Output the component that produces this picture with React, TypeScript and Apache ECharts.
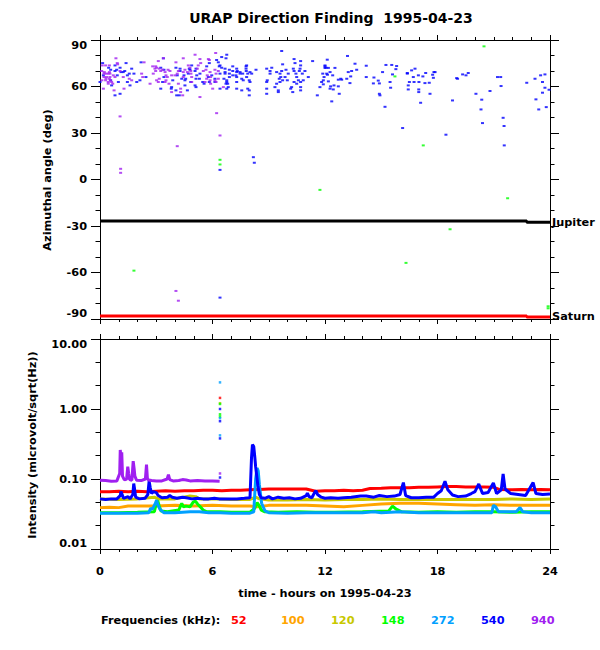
import React, { useEffect, useRef } from "react";
import * as echarts from "echarts";

const FONT = '"DejaVu Sans", sans-serif';
const TXT = 11.3;

const titleText = "URAP Direction Finding  1995-04-23";
const xAxisTitle = "time - hours on 1995-04-23";
const topYTitle = "Azimuthal angle (deg)";
const bottomYTitle = "Intensity (microvolt/sqrt(Hz))";
const legendTitle = "Frequencies (kHz):";
const frequencies = ["52", "100", "120", "148", "272", "540", "940"];
const freqColors = ["#ff0000", "#ffa500", "#c8c800", "#00ff00", "#00a0ff", "#0000ff", "#a020f0"];

// ---- Direction finding (top panel): [hour, azimuth deg]
const df940: number[][] = [
  [6.17, 81.6], [5.07, 80.5], [0.85, 78.2], [3.38, 78.2], [4.44, 78.2], [5.33, 77.7], [5.78, 77.7], [5.83, 77.1],
  [3.11, 76.4], [2.35, 75.6], [4.05, 75.6], [0.92, 75.1], [5.37, 75.1], [0.94, 74.3], [0.12, 73.6], [0.3, 73.6],
  [0.5, 73.6], [4.71, 73.6], [5.24, 73.6], [2.81, 73.0], [2.97, 73.0], [3.02, 72.1], [4.8, 72.1], [2.93, 71.5],
  [3.16, 71.5], [5.19, 71.5], [3.34, 70.8], [3.63, 70.8], [4.53, 70.8], [5.65, 70.8], [6.13, 70.8], [0.09, 70.0],
  [1.07, 70.0], [2.97, 70.0], [3.24, 70.0], [3.73, 70.0], [4.18, 70.0], [4.84, 70.0], [5.51, 70.0], [6.31, 70.0],
  [0.23, 69.3], [0.5, 69.3], [3.47, 69.3], [4.44, 69.3], [4.66, 69.3], [5.87, 69.3], [0.21, 68.3], [0.32, 68.3],
  [0.44, 68.3], [0.53, 68.3], [2.22, 68.3], [2.84, 68.3], [4.12, 68.3], [4.85, 68.3], [6.19, 68.3], [0.71, 67.2],
  [3.52, 67.2], [3.82, 67.2], [4.0, 67.2], [5.72, 67.2], [0.21, 66.1], [0.35, 66.1], [0.53, 66.1], [0.8, 66.1],
  [1.24, 66.1], [2.28, 66.1], [3.59, 66.1], [4.44, 66.1], [4.89, 66.1], [5.9, 66.1], [0.32, 65.0], [0.5, 65.0],
  [1.56, 65.0], [3.16, 65.0], [5.69, 65.0], [6.31, 65.0], [0.1, 64.0], [0.3, 64.0], [0.55, 64.0], [1.69, 64.0],
  [3.02, 64.0], [3.52, 64.0], [5.87, 64.0], [6.13, 64.0], [0.44, 62.9], [0.62, 62.9], [3.11, 62.9], [3.47, 62.9],
  [4.89, 62.9], [5.6, 62.9], [6.19, 62.9], [0.44, 61.8], [0.68, 61.8], [2.67, 61.8], [3.68, 61.8], [4.18, 61.8],
  [5.9, 61.8], [6.58, 59.6], [0.18, 58.6], [4.3, 58.6], [6.01, 58.6], [1.28, 58.6], [0.75, 57.5], [3.82, 56.4],
  [4.3, 56.4], [4.41, 54.3], [5.33, 53.2], [6.22, 42.8], [1.07, 40.7], [6.4, 28.4], [4.12, 21.5], [1.1, 6.9],
  [1.1, 4.3], [4.05, -71.9], [4.18, -78.2],
];

const df540: number[][] = [
  [9.69, 82.9], [6.76, 80.5], [6.49, 79.0], [3.38, 78.2], [6.72, 78.2], [10.35, 77.7], [6.22, 77.1], [10.7, 76.4],
  [11.34, 76.4], [2.19, 75.6], [6.31, 75.6], [0.14, 75.1], [1.39, 75.1], [5.83, 75.1], [10.4, 75.1], [9.74, 74.3],
  [0.8, 73.6], [4.89, 73.6], [6.4, 73.6], [7.82, 73.6], [10.7, 73.6], [12.0, 73.6], [5.69, 73.0], [6.36, 73.0],
  [7.08, 73.0], [7.79, 73.0], [0.46, 72.1], [1.07, 72.1], [3.24, 72.1], [4.05, 72.1], [6.49, 72.1], [9.16, 72.1],
  [12.05, 72.1], [1.69, 71.5], [4.27, 71.5], [4.76, 71.5], [5.12, 71.5], [6.67, 71.5], [7.29, 71.5], [7.79, 71.5],
  [8.89, 71.5], [10.31, 71.5], [10.67, 71.5], [0.57, 70.8], [0.89, 70.8], [3.41, 70.8], [4.8, 70.8], [6.9, 70.8],
  [8.32, 70.8], [9.92, 70.8], [0.8, 70.0], [1.32, 70.0], [4.27, 70.0], [5.07, 70.0], [7.08, 70.0], [7.32, 70.0],
  [7.8, 70.0], [9.07, 70.0], [9.69, 70.0], [10.35, 70.0], [10.63, 70.0], [10.93, 70.0], [1.12, 69.3], [1.24, 69.3],
  [6.67, 69.3], [7.29, 69.3], [7.47, 69.3], [8.0, 69.3], [9.42, 69.3], [1.56, 68.3], [1.81, 68.3], [4.71, 68.3],
  [5.33, 68.3], [6.4, 68.3], [6.67, 68.3], [6.9, 68.3], [7.47, 68.3], [7.61, 68.3], [7.88, 68.3], [8.09, 68.3],
  [9.07, 68.3], [9.6, 68.3], [10.04, 68.3], [10.45, 68.3], [10.79, 68.3], [11.88, 68.3], [0.18, 67.2], [0.92, 67.2],
  [1.46, 67.2], [4.12, 67.2], [4.48, 67.2], [5.16, 67.2], [5.96, 67.2], [7.08, 67.2], [7.25, 67.2], [2.45, 66.1],
  [3.41, 66.1], [5.78, 66.1], [6.9, 66.1], [7.29, 66.1], [7.82, 66.1], [9.64, 66.1], [9.87, 66.1], [10.49, 66.1],
  [11.11, 66.1], [11.95, 66.1], [4.36, 65.0], [4.57, 65.0], [5.12, 65.0], [5.3, 65.0], [6.13, 65.0], [6.61, 65.0],
  [7.56, 65.0], [9.56, 65.0], [0.57, 64.0], [2.13, 64.0], [3.88, 64.0], [4.53, 64.0], [6.76, 64.0], [7.64, 64.0],
  [7.96, 64.0], [8.92, 64.0], [9.74, 64.0], [9.99, 64.0], [10.58, 64.0], [10.84, 64.0], [11.91, 64.0], [0.0, 62.9],
  [0.98, 62.9], [1.46, 62.9], [1.96, 62.9], [3.34, 62.9], [4.84, 62.9], [5.48, 62.9], [5.83, 62.9], [6.13, 62.9],
  [6.76, 62.9], [7.29, 62.9], [8.0, 62.9], [8.89, 62.9], [9.6, 62.9], [10.35, 62.9], [10.7, 62.9], [5.55, 61.8],
  [6.72, 61.8], [6.81, 61.8], [9.42, 61.8], [10.49, 61.8], [0.62, 60.7], [1.6, 60.7], [5.07, 60.7], [4.53, 60.7],
  [5.12, 59.6], [3.82, 59.6], [9.33, 59.6], [6.84, 59.6], [10.22, 59.6], [10.7, 59.6], [11.73, 59.6], [3.8, 58.6],
  [3.24, 58.6], [6.4, 58.6], [6.76, 58.6], [7.29, 58.6], [7.88, 58.6], [8.89, 58.6], [10.17, 58.6], [4.66, 57.5],
  [4.05, 57.5], [7.56, 57.5], [7.96, 57.5], [9.51, 57.5], [10.7, 57.5], [9.51, 56.4], [10.28, 56.4], [1.07, 55.3],
  [8.89, 55.3], [0.8, 54.3], [4.09, 54.3], [4.23, 54.3], [7.96, 54.3], [11.59, 54.3], [6.4, 6.2], [8.18, 14.4],
  [8.23, 10.8], [6.4, -76.2],
  [13.2, 79.7], [12.12, 77.3], [13.6, 74.7], [12.0, 73.0], [12.0, 72.0], [12.53, 72.0], [12.18, 72.0], [14.2, 73.4],
  [15.25, 73.9], [15.56, 73.9], [15.82, 73.2], [13.69, 70.8], [15.78, 71.2], [12.27, 69.3], [13.24, 69.3], [13.42, 70.0],
  [15.07, 69.3], [17.87, 69.3], [16.8, 71.5], [16.62, 70.4], [16.39, 68.7], [19.64, 68.7], [19.34, 67.8], [19.52, 67.2],
  [12.09, 68.3], [12.13, 67.6], [12.41, 67.2], [12.84, 65.0], [13.16, 65.0], [13.37, 66.5], [23.73, 67.8], [23.5, 67.2],
  [14.2, 66.1], [14.61, 65.8], [15.6, 67.8], [16.39, 68.3], [16.71, 66.1], [16.98, 67.2], [17.22, 66.5], [17.37, 68.7],
  [17.74, 67.6], [17.81, 69.3], [17.78, 65.6], [19.07, 65.0], [19.02, 65.4], [21.2, 66.1], [21.37, 66.1], [23.2, 65.0],
  [11.82, 62.9], [12.18, 63.3], [12.71, 64.4], [12.89, 64.4], [13.33, 62.2], [14.58, 62.0], [14.84, 63.8], [14.9, 62.0],
  [15.47, 62.9], [16.5, 62.9], [16.75, 62.9], [17.01, 62.9], [17.33, 62.2], [17.56, 62.4], [22.76, 62.4], [23.6, 62.9],
  [12.48, 60.7], [11.91, 61.4], [12.3, 60.1], [12.71, 60.1], [15.5, 59.2], [16.44, 60.7], [21.39, 60.3], [23.73, 59.2],
  [12.44, 58.1], [12.27, 58.6], [12.76, 55.3], [16.44, 58.1], [17.0, 58.1], [17.0, 56.4], [17.6, 55.3], [20.05, 55.3],
  [14.9, 55.3], [14.93, 54.3], [23.95, 57.9], [23.6, 56.0], [12.36, 50.4], [15.2, 46.9], [17.1, 49.5], [18.8, 51.0],
  [20.36, 51.5], [20.32, 45.2], [20.8, 57.1], [21.5, 39.8], [21.55, 34.5], [20.4, 36.4], [23.25, 51.7], [23.4, 45.2],
  [23.8, 46.7], [16.14, 33.2], [18.45, 28.9], [21.56, 22.0],
];

const df148: number[][] = [
  [6.4, 12.7], [6.4, 9.7], [11.73, -6.7], [1.81, -58.8], [20.48, 85.9], [15.73, 66.5], [17.24, 22.0],
  [21.74, -12.1], [18.67, -32.1], [16.32, -53.8], [15.56, -88.1], [23.9, -81.8], [23.9, -83.1],
];

const jupiter: number[][] = [[0, -26.7], [22.76, -26.7], [22.76, -27.6], [24, -27.6]];
const saturn: number[][] = [[0, -88.0], [22.76, -88.0], [22.76, -88.7], [24, -88.7]];

// ---- Intensity (bottom panel): [hour, microvolt/sqrt(Hz)]
const int52: number[][] = [
  [0, 0.066], [0.5, 0.066], [1, 0.067], [1.5, 0.066], [2, 0.067], [2.5, 0.066], [3, 0.067], [3.5, 0.068], [4, 0.067],
  [4.5, 0.068], [5, 0.068], [5.5, 0.069], [6, 0.069], [6.5, 0.068], [7, 0.069], [7.5, 0.069], [8, 0.07], [8.5, 0.071],
  [9, 0.072], [9.5, 0.072], [10, 0.072], [10.5, 0.072], [11, 0.072], [11.5, 0.067], [12, 0.068], [12.5, 0.068],
  [13, 0.069], [13.5, 0.068], [14, 0.069], [14.4, 0.073], [15, 0.074], [15.5, 0.075], [16, 0.075], [16.5, 0.075],
  [17, 0.076], [17.5, 0.076], [18, 0.077], [18.5, 0.078], [19, 0.078], [19.5, 0.077], [20, 0.077], [20.5, 0.077],
  [21, 0.076], [21.3, 0.071], [22, 0.07], [22.5, 0.071], [23, 0.07], [23.5, 0.071], [24, 0.07],
];
const int100: number[][] = [
  [0, 0.039], [0.5, 0.0395], [1, 0.039], [1.5, 0.041], [2, 0.041], [3, 0.041], [4, 0.042], [5, 0.041], [6, 0.042],
  [7, 0.041], [8, 0.041], [8.4, 0.04], [9, 0.042], [10, 0.042], [11, 0.042], [12, 0.041], [13, 0.04], [14, 0.042],
  [15, 0.044], [16, 0.045], [17, 0.045], [18, 0.044], [19, 0.043], [20, 0.042], [21, 0.043], [22, 0.042], [23, 0.042],
  [24, 0.042],
];
const int120: number[][] = [
  [0, 0.052], [1, 0.051], [2, 0.052], [2.9, 0.055], [3.1, 0.052], [4, 0.052], [4.8, 0.057], [5.1, 0.056], [5.3, 0.052],
  [6.4, 0.052], [7, 0.051], [8, 0.051], [8.3, 0.055], [8.5, 0.052], [9, 0.05], [10, 0.05], [11, 0.051], [12, 0.05],
  [13, 0.051], [14, 0.051], [15, 0.052], [16, 0.051], [17, 0.051], [18, 0.051], [19, 0.051], [20, 0.051], [21, 0.051],
  [22, 0.052], [23, 0.051], [24, 0.052],
];
const int148: number[][] = [
  [0, 0.033], [1, 0.033], [2, 0.0335], [2.9, 0.034], [3.0, 0.045], [3.08, 0.049], [3.15, 0.042], [3.25, 0.035],
  [3.6, 0.034], [4.2, 0.036], [4.36, 0.045], [4.45, 0.04], [4.6, 0.041], [4.8, 0.04], [4.98, 0.047], [5.1, 0.048],
  [5.2, 0.044], [5.35, 0.04], [5.5, 0.036], [5.7, 0.034], [6.4, 0.034], [7, 0.0335], [8, 0.0335], [8.25, 0.038],
  [8.38, 0.046], [8.48, 0.042], [8.6, 0.036], [8.8, 0.034], [9.5, 0.0335], [10.5, 0.034], [11.5, 0.0335],
  [12.5, 0.0335], [14, 0.034], [15.4, 0.035], [15.6, 0.041], [15.8, 0.037], [16.1, 0.034], [17, 0.0335], [18, 0.034],
  [19, 0.0335], [20, 0.034], [21, 0.034], [22, 0.0335], [23, 0.034], [24, 0.034],
];
const int272: number[][] = [
  [0, 0.0325], [1, 0.0325], [2, 0.0325], [2.6, 0.033], [2.7, 0.038], [2.8, 0.037], [2.95, 0.045], [3.02, 0.05],
  [3.08, 0.043], [3.2, 0.037], [3.4, 0.033], [4, 0.033], [4.8, 0.034], [5.3, 0.034], [5.8, 0.033], [6.4, 0.033],
  [7, 0.0325], [8, 0.0325], [8.2, 0.034], [8.3, 0.1], [8.38, 0.144], [8.44, 0.13], [8.5, 0.083], [8.62, 0.045],
  [8.8, 0.035], [9, 0.033], [10, 0.0325], [11, 0.033], [12, 0.033], [13, 0.033], [14, 0.033], [14.6, 0.034],
  [15, 0.033], [16, 0.034], [17, 0.033], [18, 0.033], [19, 0.033], [20.9, 0.033], [20.98, 0.042], [21.1, 0.04],
  [21.25, 0.034], [21.6, 0.034], [22.2, 0.034], [22.4, 0.039], [22.55, 0.034], [23, 0.033], [24, 0.033],
];
const int540: number[][] = [
  [0, 0.052], [0.3, 0.051], [0.6, 0.052], [0.9, 0.052], [1.08, 0.058], [1.12, 0.066], [1.18, 0.06], [1.25, 0.053],
  [1.5, 0.056], [1.6, 0.052], [1.75, 0.06], [1.8, 0.086], [1.85, 0.07], [1.9, 0.055], [2.1, 0.052], [2.4, 0.053],
  [2.55, 0.06], [2.62, 0.093], [2.68, 0.075], [2.75, 0.062], [2.85, 0.066], [3.0, 0.064], [3.1, 0.058], [3.3, 0.054],
  [3.6, 0.055], [3.72, 0.058], [3.85, 0.055], [4.1, 0.053], [4.4, 0.055], [4.6, 0.054], [4.9, 0.052], [5.2, 0.053],
  [5.5, 0.052], [5.8, 0.052], [6.1, 0.053], [6.35, 0.052], [6.5, 0.052], [6.9, 0.052], [7.3, 0.052], [7.7, 0.053],
  [8.0, 0.054], [8.08, 0.2], [8.13, 0.31], [8.2, 0.29], [8.26, 0.2], [8.3, 0.15], [8.36, 0.11], [8.42, 0.08],
  [8.5, 0.06], [8.6, 0.054], [8.8, 0.053], [9.0, 0.056], [9.2, 0.052], [9.5, 0.055], [9.8, 0.053], [10.1, 0.054],
  [10.4, 0.052], [10.7, 0.053], [11.0, 0.058], [11.06, 0.063], [11.15, 0.056], [11.3, 0.054], [11.47, 0.066],
  [11.52, 0.068], [11.6, 0.06], [11.8, 0.055], [12.0, 0.053], [12.3, 0.054], [12.7, 0.053], [13.0, 0.054],
  [13.4, 0.055], [13.9, 0.057], [14.2, 0.057], [14.6, 0.055], [14.9, 0.058], [15.3, 0.056], [15.7, 0.057],
  [16.0, 0.06], [16.18, 0.089], [16.3, 0.058], [16.6, 0.054], [17.0, 0.054], [17.4, 0.055], [17.8, 0.055],
  [18.0, 0.062], [18.2, 0.068], [18.4, 0.093], [18.55, 0.07], [18.8, 0.059], [19.1, 0.056], [19.5, 0.057],
  [19.8, 0.062], [20.0, 0.066], [20.2, 0.085], [20.4, 0.062], [20.7, 0.064], [20.98, 0.088], [21.15, 0.062],
  [21.4, 0.07], [21.5, 0.118], [21.6, 0.072], [21.9, 0.062], [22.3, 0.06], [22.7, 0.058], [23.1, 0.089],
  [23.25, 0.062], [23.6, 0.06], [24.0, 0.061],
];
const int940: number[][] = [
  [0, 0.096], [0.3, 0.095], [0.6, 0.093], [0.9, 0.094], [1.05, 0.12], [1.08, 0.26], [1.12, 0.2], [1.16, 0.24],
  [1.2, 0.11], [1.3, 0.097], [1.42, 0.1], [1.48, 0.15], [1.53, 0.12], [1.58, 0.098], [1.7, 0.096], [1.77, 0.18],
  [1.82, 0.14], [1.86, 0.11], [1.95, 0.096], [2.2, 0.095], [2.42, 0.1], [2.48, 0.16], [2.53, 0.1], [2.6, 0.097],
  [2.75, 0.095], [3.0, 0.094], [3.3, 0.094], [3.58, 0.1], [3.65, 0.115], [3.72, 0.098], [3.9, 0.094], [4.2, 0.095],
  [4.4, 0.098], [4.6, 0.097], [4.8, 0.094], [5.2, 0.095], [5.6, 0.094], [6.0, 0.094], [6.38, 0.093],
];
// isolated burst samples at 6.4 h
const burstHour = 6.4;
const burst52 = [1.44];
const burst100: number[] = [];
const burst120 = [1.21];
const burst148 = [1.18, 0.84, 0.78];
const burst272 = [2.4, 0.74, 0.42];
const burst540 = [1.0, 0.67, 0.38, 0.105];
const burst940 = [0.12];

const intensity = [int52, int100, int120, int148, int272, int540, int940];
const bursts = [burst52, burst100, burst120, burst148, burst272, burst540, burst940];

const textStyle = { fontFamily: FONT, fontWeight: "bold" as const, fontSize: TXT, color: "#000" };

function xAxisDef(gridIndex: number, position: string, showLabel: boolean) {
  return {
    type: "value", gridIndex, position, min: 0, max: 24, interval: 6,
    axisLine: { show: true, onZero: false, lineStyle: { color: "#000", width: 1 } },
    axisTick: { show: true, inside: false, length: 5, lineStyle: { color: "#000", width: 1 } },
    minorTick: { show: true, splitNumber: 6, length: 3, lineStyle: { color: "#000", width: 1 } },
    splitLine: { show: false },
    axisLabel: { show: showLabel, margin: 17, ...textStyle },
  };
}

function tickYAxis(gridIndex: number, position: string, min: number, max: number, interval: number, split: number, showLabel: boolean, showLine: boolean) {
  return {
    type: "value", gridIndex, position, min, max, interval,
    axisLine: { show: showLine, onZero: false, lineStyle: { color: "#000", width: 1 } },
    axisTick: { show: true, inside: false, length: 9, lineStyle: { color: "#000", width: 1 } },
    minorTick: { show: true, splitNumber: split, length: 4.5, lineStyle: { color: "#000", width: 1 } },
    splitLine: { show: false },
    axisLabel: {
      show: showLabel, margin: 13, ...textStyle,
      verticalAlignMaxLabel: "top", verticalAlignMinLabel: "bottom",
    },
  };
}

export default function App() {
  const ref = useRef<HTMLDivElement>(null);
  useEffect(() => {
    if (!ref.current) return;
    const chart = echarts.init(ref.current, null, { renderer: "svg" });

    const dfSeries = [
      { name: "540", data: df540, color: freqColors[5] },
      { name: "940", data: df940, color: freqColors[6] },
      { name: "148", data: df148, color: freqColors[3] },
    ].map((s) => ({
      type: "scatter", name: "DF " + s.name, xAxisIndex: 0, yAxisIndex: 0, data: s.data,
      symbol: "rect", symbolSize: [3, 2], itemStyle: { color: s.color }, silent: true,
    }));

    const planetSeries = [
      { name: "Jupiter", data: jupiter, color: "#000" },
      { name: "Saturn", data: saturn, color: "#ff0000" },
    ].map((p) => ({
      type: "line", name: p.name, xAxisIndex: 0, yAxisIndex: 0, data: p.data,
      showSymbol: false, symbol: "none", lineStyle: { color: p.color, width: 3 },
      endLabel: { show: true, formatter: () => p.name, distance: 2, ...textStyle },
      silent: true,
    }));

    const lineSeries = intensity.map((d, i) => ({
      type: "line", name: frequencies[i] + " kHz", xAxisIndex: 2, yAxisIndex: 2, data: d,
      showSymbol: false, symbol: "none", lineStyle: { color: freqColors[i], width: 3 }, silent: true,
    }));

    const burstSeries = bursts.map((b, i) => ({
      type: "scatter", name: frequencies[i] + " kHz burst", xAxisIndex: 2, yAxisIndex: 2,
      data: b.map((v) => [burstHour, v]), symbol: "rect", symbolSize: [2.5, 2.5],
      itemStyle: { color: freqColors[i] }, silent: true,
    }));

    const legendEls: any[] = [
      {
        type: "text", x: 101, y: 620,
        style: { text: legendTitle, fill: "#000", font: `bold ${TXT}px ${FONT}`, textAlign: "left", align: "left", textVerticalAlign: "middle", verticalAlign: "middle" },
      },
      ...frequencies.map((f, i) => ({
        type: "text", x: 231 + 50 * i, y: 620,
        style: { text: f, fill: freqColors[i], font: `bold ${TXT}px ${FONT}`, textAlign: "left", align: "left", textVerticalAlign: "middle", verticalAlign: "middle" },
      })),
    ];

    const centered = (text: string, x: number, y: number, rot: number) => ({
      type: "text", x, y, rotation: rot,
      style: { text, fill: "#000", font: `bold ${TXT}px ${FONT}`, textAlign: "center", align: "center", textVerticalAlign: "middle", verticalAlign: "middle" },
    });

    const option: any = {
      animation: false,
      backgroundColor: "#ffffff",
      title: {
        text: titleText, left: 326, top: 6, textAlign: "center",
        textStyle: { fontFamily: FONT, fontWeight: "bold", fontSize: 14, color: "#000" },
      },
      grid: [
        { left: 100, top: 40, width: 450, height: 279 },
        { left: 100, top: 339, width: 450, height: 210 },
      ],
      xAxis: [
        xAxisDef(0, "bottom", false),
        xAxisDef(0, "top", false),
        xAxisDef(1, "bottom", true),
        xAxisDef(1, "top", false),
      ],
      yAxis: [
        tickYAxis(0, "left", -90, 90, 30, 3, true, true),
        tickYAxis(0, "right", -90, 90, 30, 3, false, true),
        {
          type: "log", logBase: 10, gridIndex: 1, position: "left", min: 0.01, max: 10,
          axisLine: { show: true, onZero: false, lineStyle: { color: "#000", width: 1 } },
          axisTick: { show: false }, minorTick: { show: false }, splitLine: { show: false },
          axisLabel: {
            show: true, margin: 13, ...textStyle,
            formatter: (v: number) => v.toFixed(2),
            verticalAlignMaxLabel: "top", verticalAlignMinLabel: "bottom",
          },
        },
        tickYAxis(1, "left", -2, 1, 1, 3, false, false),
        tickYAxis(1, "right", -2, 1, 1, 3, false, true),
      ],
      graphic: {
        elements: [
          centered(topYTitle, 47, 180, Math.PI / 2),
          centered(bottomYTitle, 32, 445, Math.PI / 2),
          centered(xAxisTitle, 325, 593, 0),
          ...legendEls,
        ],
      },
      series: [...dfSeries, ...planetSeries, ...lineSeries, ...burstSeries],
    };
    chart.setOption(option);
    return () => chart.dispose();
  }, []);

  return (
    <div
      ref={ref}
      style={{ position: "absolute", left: 0, top: 0, width: 600, height: 650, background: "#fff" }}
    />
  );
}
